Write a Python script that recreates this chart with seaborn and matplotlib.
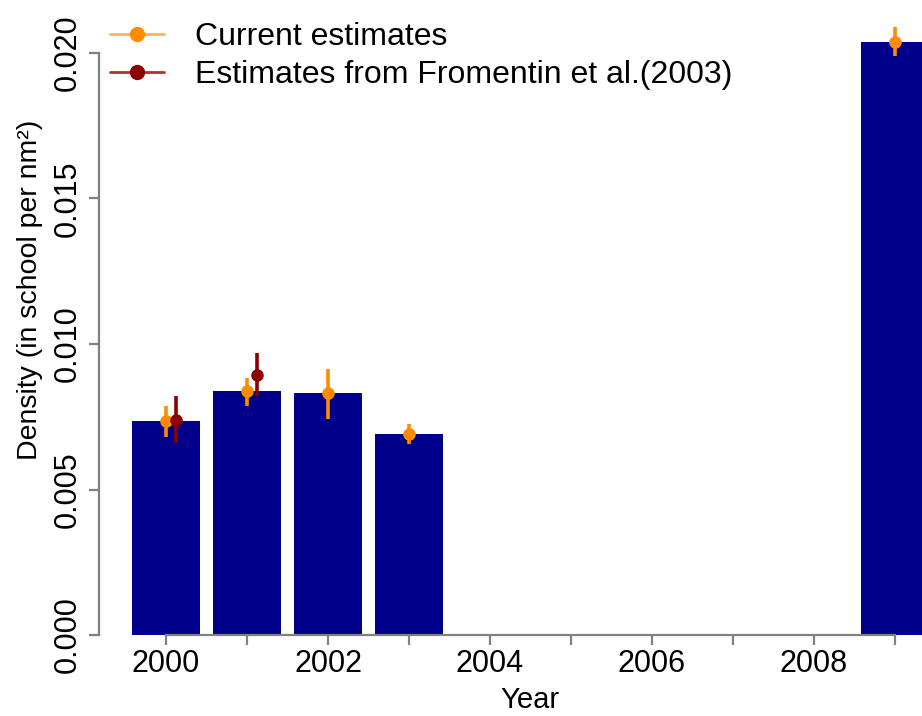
import matplotlib
matplotlib.use("Agg")
import matplotlib.pyplot as plt
from matplotlib.lines import Line2D
import numpy as np
import pandas as pd
import seaborn as sns

# ---- data ----
years = [2000, 2001, 2002, 2003, 2009]
current_mean = [0.00735, 0.00838, 0.00831, 0.00691, 0.02039]
current_lo = [0.00681, 0.00788, 0.00742, 0.00656, 0.01991]
current_hi = [0.00788, 0.00883, 0.00914, 0.00725, 0.02088]

fromentin_years = [2000, 2001]
fromentin_mean = [0.00739, 0.00894]
fromentin_lo = [0.00660, 0.00822]
fromentin_hi = [0.00821, 0.00968]

xtick_values = [2000, 2001, 2002, 2003, 2004, 2005, 2006, 2007, 2008, 2009]
xtick_labels = ["2000", "", "2002", "", "2004", "", "2006", "", "2008", ""]
ytick_values = [0.000, 0.005, 0.010, 0.015, 0.020]
ytick_labels = ["0.000", "0.005", "0.010", "0.015", "0.020"]
legend_labels = ["Current estimates", "Estimates from Fromentin et al.(2003)"]

BAR = "#00008B"
ORANGE = "#FF8C00"
DARKRED = "#8B0000"
GREY = "#808080"

sns.set_style("white")
plt.rcParams["font.family"] = ["Liberation Sans", "DejaVu Sans"]
plt.rcParams["text.color"] = "black"
plt.rcParams["axes.labelcolor"] = "black"

W, H = 922, 716
fig = plt.figure(figsize=(W / 100, H / 100), dpi=100)
ax = fig.add_axes([99 / W, (H - 635) / H, 1 - 99 / W, 635 / H])

df = pd.DataFrame({"Year": years, "Density": current_mean})
sns.barplot(data=df, x="Year", y="Density", native_scale=True, width=0.85,
            color=BAR, saturation=1, linewidth=0, ax=ax, zorder=2)

cm = np.array(current_mean)
ax.errorbar(np.array(years, dtype=float), cm,
            yerr=[cm - np.array(current_lo), np.array(current_hi) - cm],
            fmt="o", color=ORANGE, ecolor=ORANGE, elinewidth=2.6, capsize=0,
            markersize=8, zorder=4)
fm = np.array(fromentin_mean)
ax.errorbar(np.array(fromentin_years, dtype=float) + 0.12, fm,
            yerr=[fm - np.array(fromentin_lo), np.array(fromentin_hi) - fm],
            fmt="o", color=DARKRED, ecolor=DARKRED, elinewidth=2.6, capsize=0,
            markersize=8, zorder=5)

ax.set_xlim(2000 - 67 / 81.0, 2009 + 27 / 81.0)
ax.set_ylim(0, 635 / 29100)

for s in ["top", "right"]:
    ax.spines[s].set_visible(False)
for s in ["left", "bottom"]:
    ax.spines[s].set_color(GREY)
    ax.spines[s].set_linewidth(1.6)
ax.spines["left"].set_bounds(0, 0.020)
ax.spines["bottom"].set_bounds(2000, 2009)

ax.set_xticks(xtick_values)
ax.set_xticklabels(xtick_labels)
ax.set_yticks(ytick_values)
ax.set_yticklabels(ytick_labels, rotation=90, va="center")
ax.tick_params(axis="both", direction="out", length=7, width=1.6, color=GREY,
               labelsize=22, labelcolor="black", left=True, bottom=True)
ax.tick_params(axis="x", pad=3)
ax.tick_params(axis="y", pad=5)

ax.set_xlabel("Year", fontsize=21, color="black")
ax.set_ylabel("Density (in school per nm²)", fontsize=20.5, color="black")
ax.xaxis.set_label_coords((530 - 99) / 823, -(700 - 635) / 635, transform=ax.transAxes)
ax.xaxis.label.set_va("center")
ax.yaxis.set_label_coords(-(99 - 30) / 823, (635 - 290) / 635, transform=ax.transAxes)
ax.yaxis.label.set_va("center")

handles = [
    Line2D([0], [0], color="#FFB060", lw=2, marker="o", markersize=10,
           markerfacecolor=ORANGE, markeredgecolor=ORANGE),
    Line2D([0], [0], color="#A83535", lw=2, marker="o", markersize=10,
           markerfacecolor=DARKRED, markeredgecolor=DARKRED),
]
leg = ax.legend(handles, legend_labels, loc="upper left", frameon=False,
                fontsize=23, handlelength=1.7, handletextpad=0.95,
                labelspacing=0.25, borderpad=0, borderaxespad=0,
                bbox_to_anchor=(110 / W, 1 - 22 / H),
                bbox_transform=fig.transFigure)

fig.savefig("out.png", dpi=100)
